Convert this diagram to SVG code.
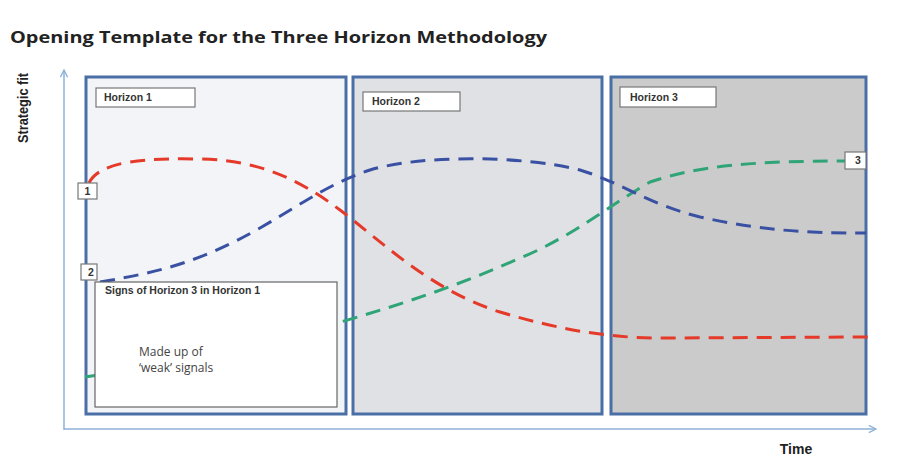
<svg xmlns="http://www.w3.org/2000/svg" width="920" height="456" viewBox="0 0 920 456">
<defs>
<style>
.panel{stroke:#4a6ea6;stroke-width:3}
.lbl{fill:#fff;stroke:#777;stroke-width:1.2}
.lt{font-family:"Liberation Sans",Arial,sans-serif;font-weight:bold;font-size:10.5px;fill:#333}
.curve{fill:none;stroke-width:3;stroke-dasharray:15 9}
.axis{fill:none;stroke:#8eb1da;stroke-width:1.5}
</style>
<marker id="ah" viewBox="0 0 10 10" refX="9" refY="5" markerWidth="9" markerHeight="9" markerUnits="userSpaceOnUse" orient="auto">
<path d="M1 1 L9 5 L1 9" fill="none" stroke="#8eb1da" stroke-width="1.5"/>
</marker>
</defs>
<rect width="920" height="456" fill="#fff"/>
<text x="10" y="43" font-family="'Open Sans','Liberation Sans',sans-serif" font-weight="bold" font-size="16.5" fill="#222" textLength="537" lengthAdjust="spacingAndGlyphs">Opening Template for the Three Horizon  Methodology</text>

<g id="axes">
<path class="axis" d="M64 430 V70" marker-end="url(#ah)"/>
<path class="axis" d="M64 429 H876" marker-end="url(#ah)"/>
<text transform="translate(28 108) rotate(-90)" text-anchor="middle" font-family="'Liberation Sans',Arial,sans-serif" font-weight="bold" font-size="14" fill="#222" textLength="70" lengthAdjust="spacingAndGlyphs">Strategic fit</text>
<text x="796" y="454" text-anchor="middle" font-family="'Liberation Sans',Arial,sans-serif" font-weight="bold" font-size="14" fill="#222">Time</text>
</g>

<g id="horizon1">
<rect class="panel" x="86" y="77" width="260" height="337" fill="#f2f4f7"/>
<rect class="lbl" x="96" y="88" width="99" height="19"/>
<text class="lt" x="104" y="101">Horizon 1</text>
</g>
<g id="horizon2">
<rect class="panel" x="353" y="77" width="249" height="337" fill="#dfe1e4"/>
<rect class="lbl" x="363" y="92" width="97" height="19"/>
<text class="lt" x="372" y="105">Horizon 2</text>
</g>
<g id="horizon3">
<rect class="panel" x="611" y="77" width="255" height="337" fill="#cbcbcb"/>
<rect class="lbl" x="620" y="87" width="96" height="20"/>
<text class="lt" x="630" y="101">Horizon 3</text>
</g>

<g id="connectors">
<path class="curve" stroke="#2fa477" d="M85 377 C200 360 280 340 337 323 C400 305 460 285 520 258 C570 238 610 205 650 182 C700 165 760 161 845 161"/>
<path class="curve" stroke="#e53a2a" d="M89 183 C100 160 150 158 200 159 C260 160 300 180 340 210 C380 240 430 290 500 312 C560 330 610 338 660 338 L868 337"/>
<path class="curve" stroke="#3a51a3" d="M100 282 C160 272 200 262 260 228 C300 205 330 183 370 170 C420 155 520 155 580 170 C620 182 650 205 700 217 C760 230 800 233 866 233"/>
</g>

<g id="signs">
<rect x="95" y="282" width="242" height="125" fill="#fff" stroke="#666" stroke-width="1.2"/>
<text class="lt" x="105" y="294" font-size="10.5">Signs of Horizon 3 in Horizon 1</text>
<text x="139" y="356" font-family="'Open Sans','Liberation Sans',sans-serif" font-size="12" fill="#444">Made up of</text>
<text x="139" y="372" font-family="'Open Sans','Liberation Sans',sans-serif" font-size="12" fill="#444">‘weak’ signals</text>
</g>

<g id="marker1">
<rect class="lbl" x="78" y="183" width="19" height="16"/>
<text class="lt" x="87.5" y="195" text-anchor="middle">1</text>
</g>
<g id="marker2">
<rect class="lbl" x="81" y="264" width="16" height="16" stroke="none"/>
<text class="lt" x="91" y="276" text-anchor="middle">2</text>
</g>
<g id="marker3">
<rect class="lbl" x="845" y="152" width="21" height="17"/>
<text class="lt" x="858" y="164" text-anchor="middle">3</text>
</g>
</svg>
